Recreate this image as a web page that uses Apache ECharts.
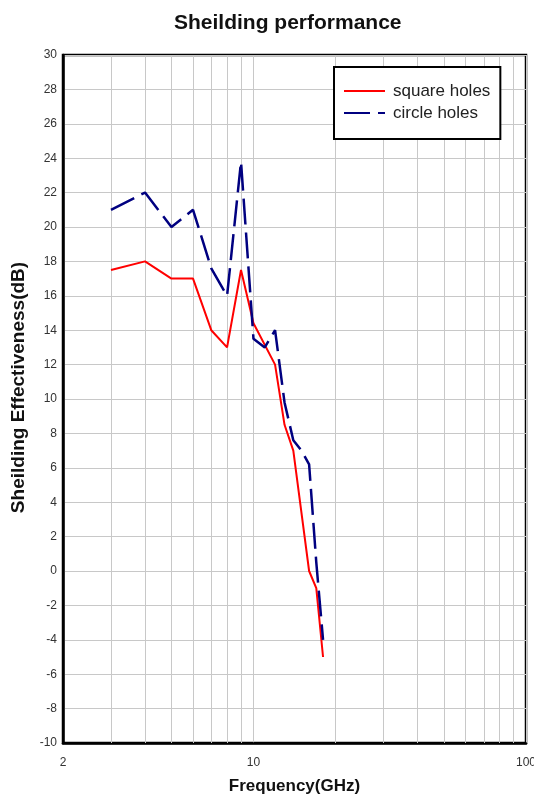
<!DOCTYPE html>
<html>
<head>
<meta charset="utf-8">
<script src="https://cdn.jsdelivr.net/npm/echarts@6/dist/echarts.min.js"></script>
<style>
  html, body { margin: 0; padding: 0; background: #fff; }
  #chart { width: 534px; height: 796px; }
</style>
</head>
<body>
<div id="chart"></div>
<script>
// frequency (GHz) / shielding effectiveness (dB)
const squareFreq = [3, 4, 5, 6, 7, 8, 9, 10, 12, 13, 14, 16, 17, 18];
const squareSE = [17.5, 18, 17, 17, 14, 13, 17.5, 14.4, 12, 8.5, 7, 0, -1, -5];
const circleFreq = [3, 4, 5, 6, 7, 8, 9, 10, 11, 12, 13, 14, 15, 16, 17, 18];
const circleSE = [21, 22, 20, 21, 17.6, 16, 23.8, 13.5, 13, 14, 9.8, 7.6, 7, 6.2, 0.5, -4];
// minor log grid lines
const minorGrid = [3, 4, 5, 6, 7, 8, 9, 20, 30, 40, 50, 60, 70, 80, 90];

const zip = (xs, ys) => xs.map((x, i) => [x, ys[i]]);

let myChart = echarts.init(document.getElementById("chart"));
myChart.setOption({
    animation: false,
    backgroundColor: "#fff",
    title: {
        text: "Sheilding performance",
        left: 169,
        top: 8,
        textStyle: {
            fontFamily: "Liberation Sans",
            fontSize: 21,
            fontWeight: "bold",
            color: "#111"
        }
    },
    legend: {
        orient: "vertical",
        left: 334,
        top: 67,
        z: 20,
        data: ["square holes", "circle holes"],
        backgroundColor: "#fff",
        borderColor: "#000",
        borderWidth: 2,
        borderRadius: 0,
        padding: [14, 10, 16, 9],
        itemGap: 2,
        itemWidth: 41,
        itemHeight: 14,
        itemStyle: { opacity: 0 },
        textStyle: {
            fontFamily: "Liberation Sans",
            fontSize: 17,
            lineHeight: 20,
            color: "#222",
            padding: [0, 0, 0, 3]
        }
    },
    grid: {
        left: 63,
        right: 8,
        top: 55,
        bottom: 53,
        outerBoundsMode: "none",
        containLabel: false,
        show: true,
        borderColor: "#000",
        borderWidth: 2.5
    },
    xAxis: {
        type: "log",
        logBase: 10,
        min: 2,
        max: 100,
        name: "Frequency(GHz)",
        nameLocation: "middle",
        nameGap: 35,
        nameTextStyle: {
            fontFamily: "Liberation Sans",
            fontSize: 17,
            fontWeight: "bold",
            color: "#111"
        },
        axisLine: { onZero: false, lineStyle: { color: "#000", width: 2.5 } },
        axisTick: { show: false },
        axisLabel: {
            margin: 14,
            fontFamily: "Liberation Sans",
            fontSize: 12,
            color: "#333",
            formatter: v => String(+(+v).toPrecision(6))
        },
        splitLine: { show: true, lineStyle: { color: "#c8c8c8", width: 1 } }
    },
    yAxis: {
        type: "value",
        min: -10,
        max: 30,
        interval: 2,
        name: "Sheilding Effectiveness(dB)",
        nameLocation: "middle",
        nameGap: 32,
        nameTextStyle: {
            fontFamily: "Liberation Sans",
            fontSize: 19,
            fontWeight: "bold",
            color: "#111",
            padding: [0, 0, 0, 23]
        },
        axisLine: { lineStyle: { color: "#000", width: 2.5 } },
        axisTick: { show: false },
        axisLabel: {
            margin: 6,
            fontFamily: "Liberation Sans",
            fontSize: 12,
            color: "#333"
        },
        splitLine: { show: true, lineStyle: { color: "#c8c8c8", width: 1 } }
    },
    series: [
        {
            name: "minor grid",
            type: "line",
            data: [],
            silent: true,
            z: 1,
            markLine: {
                silent: true,
                z: 1,
                symbol: "none",
                label: { show: false },
                lineStyle: { color: "#c8c8c8", width: 1, type: "solid" },
                emphasis: { disabled: true },
                data: minorGrid.map(f => ({ xAxis: f }))
            }
        },
        {
            name: "square holes",
            type: "line",
            data: zip(squareFreq, squareSE),
            showSymbol: false,
            symbol: "none",
            itemStyle: { color: "#ff0000" },
            lineStyle: { color: "#ff0000", width: 2 }
        },
        {
            name: "circle holes",
            type: "line",
            data: zip(circleFreq, circleSE),
            showSymbol: false,
            symbol: "none",
            itemStyle: { color: "#000080" },
            lineStyle: { color: "#000080", width: 2.5, type: [26, 8] }
        }
    ]
});
</script>
</body>
</html>
